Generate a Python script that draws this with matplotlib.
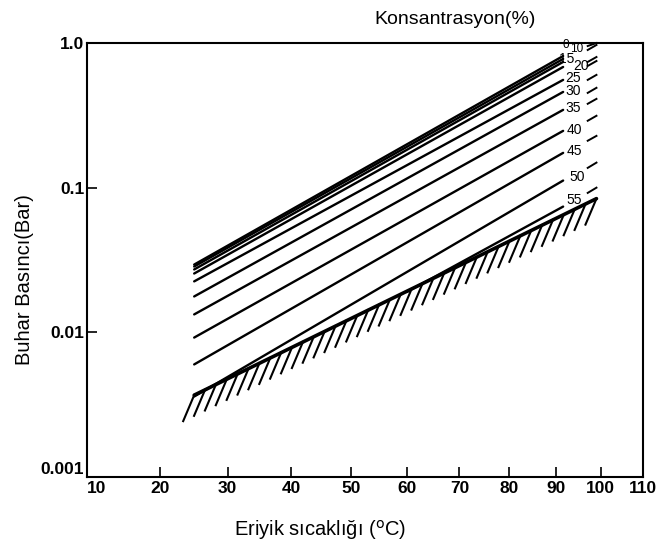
import numpy as np
import matplotlib
matplotlib.use("Agg")
import matplotlib.pyplot as plt
from matplotlib.transforms import IdentityTransform

plt.rcParams['font.family'] = ['Liberation Sans', 'DejaVu Sans']

# ---------------- data ----------------
conc_labels = ["0", "10", "15", "20", "25", "30", "35", "40", "45", "50", "55"]

# each concentration line: start (T, p) and end (T, p); T in degC, p in bar
line_t0 = [25, 25, 25, 25, 25, 25, 25, 25, 25, 25, 60]
line_p0 = [0.0294, 0.0285, 0.0272, 0.0255, 0.0225, 0.0177, 0.0133, 0.0092, 0.0060, 0.0036, 0.019]
line_t1 = [91.5] * 11
line_p1 = [0.813, 0.776, 0.740, 0.683, 0.556, 0.459, 0.345, 0.247, 0.174, 0.112, 0.074]

# short continuation dashes right of the labels
dash_t0 = [97] * 11
dash_t1 = [99] * 11
dash_p0 = [0.953, 0.895, 0.740, 0.694, 0.556, 0.452, 0.380, 0.290, 0.211, 0.137, 0.092]
dash_p1 = [1.0, 0.969, 0.800, 0.751, 0.602, 0.490, 0.411, 0.314, 0.228, 0.149, 0.100]

# label positions
lab_t = [92, 94.5, 92.3, 95.6, 93.7, 93.7, 93.7, 94, 94, 94.7, 94]
lab_p = [0.969, 0.909, 0.770, 0.695, 0.574, 0.467, 0.356, 0.251, 0.180, 0.119, 0.0826]

# crystallisation boundary (hatched)
bound_t = [25, 99]
bound_p = [0.00368, 0.084]

x_ticks = [10, 20, 30, 40, 50, 60, 70, 80, 90, 100, 110]
y_ticks = [0.001, 0.01, 0.1, 1.0]
y_tick_labels = ["0.001", "0.01", "0.1", "1.0"]

# ---------------- figure ----------------
W, H = 659, 554
fig = plt.figure(figsize=(W / 100, H / 100), dpi=100)
ax = fig.add_axes([87 / W, (H - 477) / H, 556 / W, 434 / H])

def fwd(t):
    t = np.asarray(t, dtype=float)
    return -1.0 / (t + 273.15)

def inv(u):
    u = np.asarray(u, dtype=float)
    with np.errstate(divide='ignore'):
        return -1.0 / u - 273.15

ax.set_xscale('function', functions=(fwd, inv))
ax.set_yscale('log')
ax.set_xlim(10, 110)
ax.set_ylim(0.001, 1.0)

ax.set_xticks(x_ticks)
ax.set_xticklabels([str(v) for v in x_ticks])
ax.set_yticks(y_ticks)
ax.set_yticklabels(y_tick_labels)
ax.minorticks_off()
ax.tick_params(direction='in', length=7, width=1.2, labelsize=12.5)
ax.tick_params(axis='y', pad=2)
ax.tick_params(axis='x', pad=3)
for lab in ax.get_xticklabels() + ax.get_yticklabels():
    lab.set_fontweight('bold')
ax.get_xticklabels()[0].set_horizontalalignment('left')
ax.get_yticklabels()[0].set_verticalalignment('bottom')
for s in ax.spines.values():
    s.set_linewidth(1.5)

lc = 'black'
for i in range(len(conc_labels)):
    ax.plot([line_t0[i], line_t1[i]], [line_p0[i], line_p1[i]], color=lc, lw=1.7,
            solid_capstyle='round')
    ax.plot([dash_t0[i], dash_t1[i]], [dash_p0[i], dash_p1[i]], color=lc, lw=1.4,
            clip_on=False)
    fs = 8.5 if conc_labels[i] in ("0", "10") else 10
    ax.text(lab_t[i], lab_p[i], conc_labels[i], fontsize=fs, ha='center', va='center',
            clip_on=False)

# boundary + hatch strokes
ax.plot(bound_t, bound_p, color=lc, lw=2.6, solid_capstyle='round')
fig.canvas.draw()
b0 = ax.transData.transform((bound_t[0], bound_p[0]))
b1 = ax.transData.transform((bound_t[1], bound_p[1]))
for f in np.linspace(0.0, 1.0, 38):
    px, py = b0 + f * (b1 - b0)
    ax.plot([px, px - 11], [py, py - 26], color=lc, lw=1.5,
            transform=IdentityTransform(), clip_on=False)

# titles
fig.text(455 / W, 1 - 20 / H, "Konsantrasyon(%)", fontsize=14, ha='center', va='center')
fig.text(25 / W, 1 - 280 / H, "Buhar Basıncı(Bar)", fontsize=14.5, rotation=90,
         ha='center', va='center')
fig.text(320 / W, 1 - 530 / H, r"Eriyik sıcaklığı ($^{\mathrm{o}}$C)", fontsize=14.5,
         ha='center', va='center')

fig.savefig("out.png", dpi=100)
